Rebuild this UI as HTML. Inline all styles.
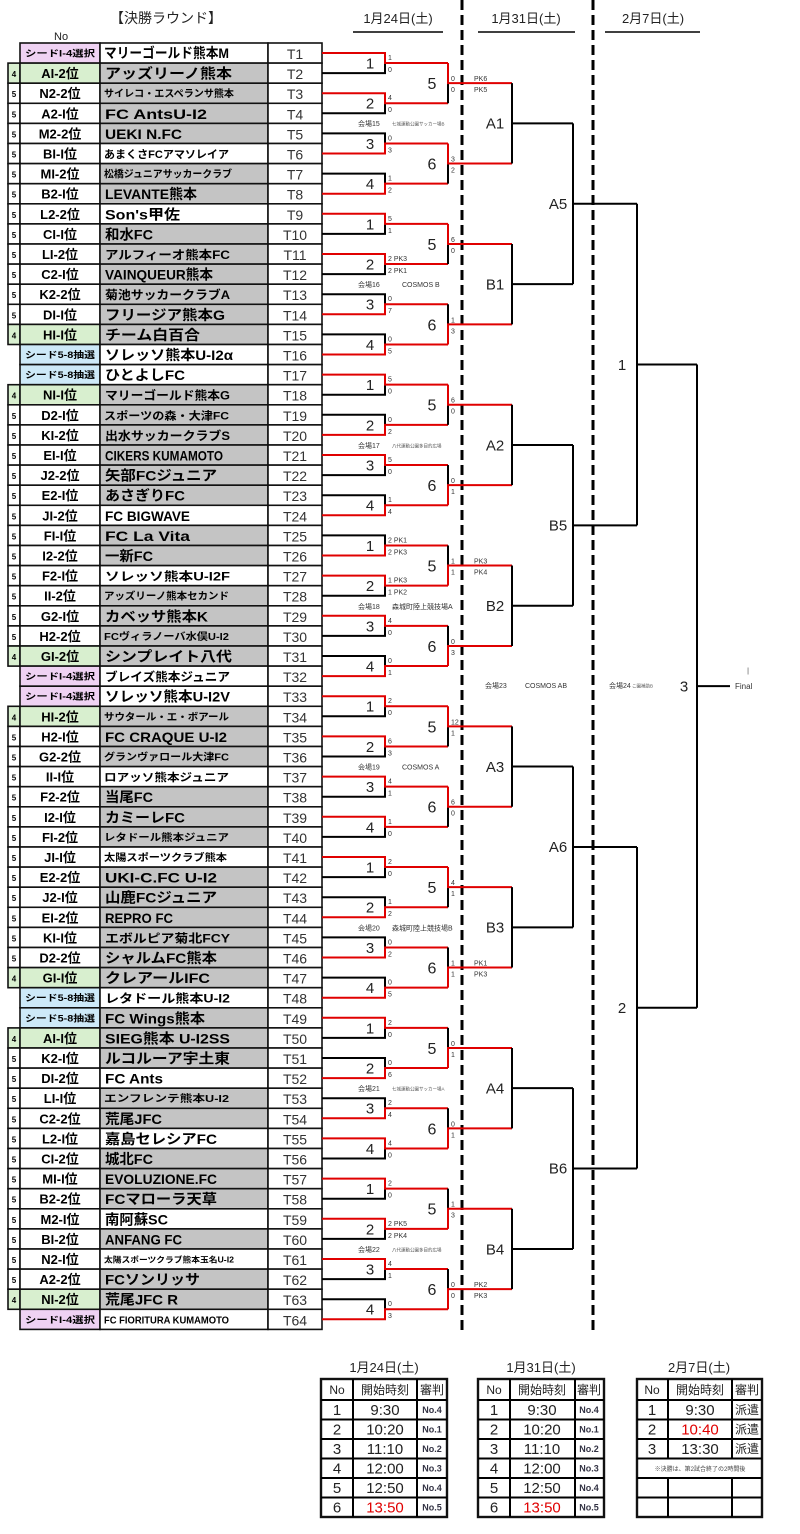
<!DOCTYPE html>
<html><head><meta charset="utf-8">
<style>
html,body{margin:0;padding:0;background:#fff;}
svg{display:block;font-family:"Liberation Sans","Noto Sans CJK JP",sans-serif;}
rect{stroke:#111;stroke-width:1.6;fill:#fff;}
.g{fill:#c4c4c4}.gr{fill:#d8efcf}.pk{fill:#efd2f3}.bl{fill:#cde9f8}
.bd{font-size:8px;font-weight:bold;text-anchor:middle;}
.lb{font-size:13px;font-weight:bold;text-anchor:middle;}
.sd{font-size:9px;font-weight:bold;}
.nm{font-size:14px;font-weight:bold;}
.ns{font-size:10px;font-weight:bold;}
.tt{font-size:14px;text-anchor:middle;fill:#333;}
.k{stroke:#000;fill:none;stroke-width:2}
.r{stroke:#e00000;fill:none;stroke-width:2}
.n1{font-size:15px;text-anchor:middle;fill:#222}
.n2{font-size:16px;text-anchor:middle;fill:#222}
.sc{font-size:7px;fill:#333}
.vn{font-size:7px;fill:#333}
.vs{font-size:4.5px;fill:#555}
.hd{font-size:13px;fill:#222}
.th{font-size:12px;text-anchor:middle;fill:#222}
.tv{font-size:15px;text-anchor:middle;fill:#222}
.tr{font-size:9px;font-weight:bold;text-anchor:middle;fill:#334}
</style></head><body>
<svg width="800" height="1534" viewBox="0 0 800 1534" xmlns="http://www.w3.org/2000/svg">
<defs>
<g id="r1t"><path class="k" d="M322 20.1H385V10.05"/><path class="r" d="M322 0H385V10.05H448"/></g>
<g id="r1b"><path class="k" d="M322 0H385V10.05"/><path class="r" d="M322 20.1H385V10.05H448"/></g>
<g id="r2t"><path class="k" d="M448 40.2V20.1"/><path class="r" d="M448 0V20.1H512"/></g>
<g id="r2b"><path class="k" d="M448 0V20.1"/><path class="r" d="M448 40.2V20.1H512"/></g>
<g id="r3"><path class="k" d="M512 0V80.4M512 40.2H573"/></g>
<g id="r4"><path class="k" d="M573 0V160.8M573 80.4H637"/></g>
<g id="r5"><path class="k" d="M637 0V321.6M637 160.8H697"/></g>
</defs>

<!-- headers -->
<text x="110" y="23" style="font-size:14px;fill:#222">【決勝ラウンド】</text>
<text x="54" y="40" style="font-size:11px;fill:#222">No</text>
<text x="398" y="23" class="hd" text-anchor="middle">1月24日(土)</text>
<line x1="353" y1="32" x2="443" y2="32" stroke="#000" stroke-width="1.5"/>
<text x="526" y="23" class="hd" text-anchor="middle">1月31日(土)</text>
<line x1="478" y1="32" x2="575" y2="32" stroke="#000" stroke-width="1.5"/>
<text x="653" y="23" class="hd" text-anchor="middle">2月7日(土)</text>
<line x1="605" y1="32" x2="700" y2="32" stroke="#000" stroke-width="1.5"/>

<!-- dashed dividers -->
<line x1="462" y1="0" x2="462" y2="1335" stroke="#000" stroke-width="3" stroke-dasharray="10 5"/>
<line x1="593" y1="0" x2="593" y2="1335" stroke="#000" stroke-width="3" stroke-dasharray="10 5"/>

<!-- team rows -->
<g transform="translate(0,43)"><rect class="pk" x="20" width="80" height="20.1"/><text class="sd" x="25" y="13.5" textLength="70" lengthAdjust="spacingAndGlyphs">シードI-4選択</text><rect x="100" width="168" height="20.1"/><text class="nm" x="104" y="15" textLength="125" lengthAdjust="spacingAndGlyphs">マリーゴールド熊本M</text><rect x="268" width="54" height="20.1"/><text class="tt" x="295" y="16">T1</text></g>
<g transform="translate(0,63.1)"><rect class="gr" x="8" width="12" height="20.1"/><text class="bd" x="14" y="14">4</text><rect class="gr" x="20" width="80" height="20.1"/><text class="lb" x="60" y="15">AI-2位</text><rect class="g" x="100" width="168" height="20.1"/><text class="nm" x="105" y="15.5" textLength="127" lengthAdjust="spacingAndGlyphs">アッズリーノ熊本</text><rect x="268" width="54" height="20.1"/><text class="tt" x="295" y="16">T2</text></g>
<g transform="translate(0,83.2)"><rect x="8" width="12" height="20.1"/><text class="bd" x="14" y="14">5</text><rect x="20" width="80" height="20.1"/><text class="lb" x="60" y="15">N2-2位</text><rect class="g" x="100" width="168" height="20.1"/><text class="ns" x="104" y="14" textLength="130" lengthAdjust="spacingAndGlyphs">サイレコ・エスペランサ熊本</text><rect x="268" width="54" height="20.1"/><text class="tt" x="295" y="16">T3</text></g>
<g transform="translate(0,103.3)"><rect x="8" width="12" height="20.1"/><text class="bd" x="14" y="14">5</text><rect x="20" width="80" height="20.1"/><text class="lb" x="60" y="15">A2-I位</text><rect class="g" x="100" width="168" height="20.1"/><text class="nm" x="105" y="15.5" textLength="102" lengthAdjust="spacingAndGlyphs">FC AntsU-I2</text><rect x="268" width="54" height="20.1"/><text class="tt" x="295" y="16">T4</text></g>
<g transform="translate(0,123.4)"><rect x="8" width="12" height="20.1"/><text class="bd" x="14" y="14">5</text><rect x="20" width="80" height="20.1"/><text class="lb" x="60" y="15">M2-2位</text><rect class="g" x="100" width="168" height="20.1"/><text class="nm" x="105" y="15.5" textLength="77" lengthAdjust="spacingAndGlyphs">UEKI N.FC</text><rect x="268" width="54" height="20.1"/><text class="tt" x="295" y="16">T5</text></g>
<g transform="translate(0,143.5)"><rect x="8" width="12" height="20.1"/><text class="bd" x="14" y="14">5</text><rect x="20" width="80" height="20.1"/><text class="lb" x="60" y="15">BI-I位</text><rect x="100" width="168" height="20.1"/><text class="ns" x="104" y="14.5" style="font-size:11px" textLength="125" lengthAdjust="spacingAndGlyphs">あまくさFCアマソレイア</text><rect x="268" width="54" height="20.1"/><text class="tt" x="295" y="16">T6</text></g>
<g transform="translate(0,163.6)"><rect x="8" width="12" height="20.1"/><text class="bd" x="14" y="14">5</text><rect x="20" width="80" height="20.1"/><text class="lb" x="60" y="15">MI-2位</text><rect class="g" x="100" width="168" height="20.1"/><text class="ns" x="104" y="14" textLength="128" lengthAdjust="spacingAndGlyphs">松橋ジュニアサッカークラブ</text><rect x="268" width="54" height="20.1"/><text class="tt" x="295" y="16">T7</text></g>
<g transform="translate(0,183.7)"><rect x="8" width="12" height="20.1"/><text class="bd" x="14" y="14">5</text><rect x="20" width="80" height="20.1"/><text class="lb" x="60" y="15">B2-I位</text><rect class="g" x="100" width="168" height="20.1"/><text class="nm" x="105" y="15.5" textLength="92" lengthAdjust="spacingAndGlyphs">LEVANTE熊本</text><rect x="268" width="54" height="20.1"/><text class="tt" x="295" y="16">T8</text></g>
<g transform="translate(0,203.8)"><rect x="8" width="12" height="20.1"/><text class="bd" x="14" y="14">5</text><rect x="20" width="80" height="20.1"/><text class="lb" x="60" y="15">L2-2位</text><rect x="100" width="168" height="20.1"/><text class="nm" x="105" y="15.5" textLength="75" lengthAdjust="spacingAndGlyphs">Son's甲佐</text><rect x="268" width="54" height="20.1"/><text class="tt" x="295" y="16">T9</text></g>
<g transform="translate(0,223.9)"><rect x="8" width="12" height="20.1"/><text class="bd" x="14" y="14">5</text><rect x="20" width="80" height="20.1"/><text class="lb" x="60" y="15">CI-I位</text><rect class="g" x="100" width="168" height="20.1"/><text class="nm" x="105" y="15.5" textLength="48" lengthAdjust="spacingAndGlyphs">和水FC</text><rect x="268" width="54" height="20.1"/><text class="tt" x="295" y="16">T10</text></g>
<g transform="translate(0,244)"><rect x="8" width="12" height="20.1"/><text class="bd" x="14" y="14">5</text><rect x="20" width="80" height="20.1"/><text class="lb" x="60" y="15">LI-2位</text><rect class="g" x="100" width="168" height="20.1"/><text class="nm" x="105" y="15" style="font-size:12px" textLength="125" lengthAdjust="spacingAndGlyphs">アルフィーオ熊本FC</text><rect x="268" width="54" height="20.1"/><text class="tt" x="295" y="16">T11</text></g>
<g transform="translate(0,264.1)"><rect x="8" width="12" height="20.1"/><text class="bd" x="14" y="14">5</text><rect x="20" width="80" height="20.1"/><text class="lb" x="60" y="15">C2-I位</text><rect class="g" x="100" width="168" height="20.1"/><text class="nm" x="105" y="15.5" textLength="108" lengthAdjust="spacingAndGlyphs">VAINQUEUR熊本</text><rect x="268" width="54" height="20.1"/><text class="tt" x="295" y="16">T12</text></g>
<g transform="translate(0,284.2)"><rect x="8" width="12" height="20.1"/><text class="bd" x="14" y="14">5</text><rect x="20" width="80" height="20.1"/><text class="lb" x="60" y="15">K2-2位</text><rect class="g" x="100" width="168" height="20.1"/><text class="nm" x="105" y="15" style="font-size:12px" textLength="125" lengthAdjust="spacingAndGlyphs">菊池サッカークラブA</text><rect x="268" width="54" height="20.1"/><text class="tt" x="295" y="16">T13</text></g>
<g transform="translate(0,304.3)"><rect x="8" width="12" height="20.1"/><text class="bd" x="14" y="14">5</text><rect x="20" width="80" height="20.1"/><text class="lb" x="60" y="15">DI-I位</text><rect class="g" x="100" width="168" height="20.1"/><text class="nm" x="105" y="15.5" textLength="120" lengthAdjust="spacingAndGlyphs">フリージア熊本G</text><rect x="268" width="54" height="20.1"/><text class="tt" x="295" y="16">T14</text></g>
<g transform="translate(0,324.4)"><rect class="gr" x="8" width="12" height="20.1"/><text class="bd" x="14" y="14">4</text><rect class="gr" x="20" width="80" height="20.1"/><text class="lb" x="60" y="15">HI-I位</text><rect class="g" x="100" width="168" height="20.1"/><text class="nm" x="105" y="15.5" textLength="95" lengthAdjust="spacingAndGlyphs">チーム白百合</text><rect x="268" width="54" height="20.1"/><text class="tt" x="295" y="16">T15</text></g>
<g transform="translate(0,344.5)"><rect class="bl" x="20" width="80" height="20.1"/><text class="sd" x="25" y="13.5" textLength="70" lengthAdjust="spacingAndGlyphs">シード5-8抽選</text><rect x="100" width="168" height="20.1"/><text class="nm" x="105" y="15.5" textLength="128" lengthAdjust="spacingAndGlyphs">ソレッソ熊本U-I2α</text><rect x="268" width="54" height="20.1"/><text class="tt" x="295" y="16">T16</text></g>
<g transform="translate(0,364.6)"><rect class="bl" x="20" width="80" height="20.1"/><text class="sd" x="25" y="13.5" textLength="70" lengthAdjust="spacingAndGlyphs">シード5-8抽選</text><rect x="100" width="168" height="20.1"/><text class="nm" x="105" y="15.5" textLength="80" lengthAdjust="spacingAndGlyphs">ひとよしFC</text><rect x="268" width="54" height="20.1"/><text class="tt" x="295" y="16">T17</text></g>
<g transform="translate(0,384.7)"><rect class="gr" x="8" width="12" height="20.1"/><text class="bd" x="14" y="14">4</text><rect class="gr" x="20" width="80" height="20.1"/><text class="lb" x="60" y="15">NI-I位</text><rect class="g" x="100" width="168" height="20.1"/><text class="nm" x="105" y="15" style="font-size:12px" textLength="125" lengthAdjust="spacingAndGlyphs">マリーゴールド熊本G</text><rect x="268" width="54" height="20.1"/><text class="tt" x="295" y="16">T18</text></g>
<g transform="translate(0,404.8)"><rect x="8" width="12" height="20.1"/><text class="bd" x="14" y="14">5</text><rect x="20" width="80" height="20.1"/><text class="lb" x="60" y="15">D2-I位</text><rect class="g" x="100" width="168" height="20.1"/><text class="ns" x="104" y="14.5" style="font-size:11px" textLength="125" lengthAdjust="spacingAndGlyphs">スポーツの森・大津FC</text><rect x="268" width="54" height="20.1"/><text class="tt" x="295" y="16">T19</text></g>
<g transform="translate(0,424.9)"><rect x="8" width="12" height="20.1"/><text class="bd" x="14" y="14">5</text><rect x="20" width="80" height="20.1"/><text class="lb" x="60" y="15">KI-2位</text><rect class="g" x="100" width="168" height="20.1"/><text class="nm" x="105" y="15" style="font-size:12px" textLength="125" lengthAdjust="spacingAndGlyphs">出水サッカークラブS</text><rect x="268" width="54" height="20.1"/><text class="tt" x="295" y="16">T20</text></g>
<g transform="translate(0,445)"><rect x="8" width="12" height="20.1"/><text class="bd" x="14" y="14">5</text><rect x="20" width="80" height="20.1"/><text class="lb" x="60" y="15">EI-I位</text><rect class="g" x="100" width="168" height="20.1"/><text class="nm" x="105" y="15.5" textLength="118" lengthAdjust="spacingAndGlyphs">CIKERS KUMAMOTO</text><rect x="268" width="54" height="20.1"/><text class="tt" x="295" y="16">T21</text></g>
<g transform="translate(0,465.1)"><rect x="8" width="12" height="20.1"/><text class="bd" x="14" y="14">5</text><rect x="20" width="80" height="20.1"/><text class="lb" x="60" y="15">J2-2位</text><rect class="g" x="100" width="168" height="20.1"/><text class="nm" x="105" y="15.5" textLength="112" lengthAdjust="spacingAndGlyphs">矢部FCジュニア</text><rect x="268" width="54" height="20.1"/><text class="tt" x="295" y="16">T22</text></g>
<g transform="translate(0,485.2)"><rect x="8" width="12" height="20.1"/><text class="bd" x="14" y="14">5</text><rect x="20" width="80" height="20.1"/><text class="lb" x="60" y="15">E2-I位</text><rect class="g" x="100" width="168" height="20.1"/><text class="nm" x="105" y="15.5" textLength="80" lengthAdjust="spacingAndGlyphs">あさぎりFC</text><rect x="268" width="54" height="20.1"/><text class="tt" x="295" y="16">T23</text></g>
<g transform="translate(0,505.3)"><rect x="8" width="12" height="20.1"/><text class="bd" x="14" y="14">5</text><rect x="20" width="80" height="20.1"/><text class="lb" x="60" y="15">JI-2位</text><rect x="100" width="168" height="20.1"/><text class="nm" x="105" y="15.5" textLength="85" lengthAdjust="spacingAndGlyphs">FC BIGWAVE</text><rect x="268" width="54" height="20.1"/><text class="tt" x="295" y="16">T24</text></g>
<g transform="translate(0,525.4)"><rect x="8" width="12" height="20.1"/><text class="bd" x="14" y="14">5</text><rect x="20" width="80" height="20.1"/><text class="lb" x="60" y="15">FI-I位</text><rect class="g" x="100" width="168" height="20.1"/><text class="nm" x="105" y="15.5" textLength="85" lengthAdjust="spacingAndGlyphs">FC La Vita</text><rect x="268" width="54" height="20.1"/><text class="tt" x="295" y="16">T25</text></g>
<g transform="translate(0,545.5)"><rect x="8" width="12" height="20.1"/><text class="bd" x="14" y="14">5</text><rect x="20" width="80" height="20.1"/><text class="lb" x="60" y="15">I2-2位</text><rect class="g" x="100" width="168" height="20.1"/><text class="nm" x="105" y="15.5" textLength="48" lengthAdjust="spacingAndGlyphs">一新FC</text><rect x="268" width="54" height="20.1"/><text class="tt" x="295" y="16">T26</text></g>
<g transform="translate(0,565.6)"><rect x="8" width="12" height="20.1"/><text class="bd" x="14" y="14">5</text><rect x="20" width="80" height="20.1"/><text class="lb" x="60" y="15">F2-I位</text><rect x="100" width="168" height="20.1"/><text class="nm" x="105" y="15" style="font-size:12px" textLength="125" lengthAdjust="spacingAndGlyphs">ソレッソ熊本U-I2F</text><rect x="268" width="54" height="20.1"/><text class="tt" x="295" y="16">T27</text></g>
<g transform="translate(0,585.7)"><rect x="8" width="12" height="20.1"/><text class="bd" x="14" y="14">5</text><rect x="20" width="80" height="20.1"/><text class="lb" x="60" y="15">II-2位</text><rect class="g" x="100" width="168" height="20.1"/><text class="ns" x="104" y="14" textLength="125" lengthAdjust="spacingAndGlyphs">アッズリーノ熊本セカンド</text><rect x="268" width="54" height="20.1"/><text class="tt" x="295" y="16">T28</text></g>
<g transform="translate(0,605.8)"><rect x="8" width="12" height="20.1"/><text class="bd" x="14" y="14">5</text><rect x="20" width="80" height="20.1"/><text class="lb" x="60" y="15">G2-I位</text><rect class="g" x="100" width="168" height="20.1"/><text class="nm" x="105" y="15.5" textLength="103" lengthAdjust="spacingAndGlyphs">カベッサ熊本K</text><rect x="268" width="54" height="20.1"/><text class="tt" x="295" y="16">T29</text></g>
<g transform="translate(0,625.9)"><rect x="8" width="12" height="20.1"/><text class="bd" x="14" y="14">5</text><rect x="20" width="80" height="20.1"/><text class="lb" x="60" y="15">H2-2位</text><rect class="g" x="100" width="168" height="20.1"/><text class="ns" x="104" y="14" textLength="125" lengthAdjust="spacingAndGlyphs">FCヴィラノーバ水俣U-I2</text><rect x="268" width="54" height="20.1"/><text class="tt" x="295" y="16">T30</text></g>
<g transform="translate(0,646)"><rect class="gr" x="8" width="12" height="20.1"/><text class="bd" x="14" y="14">4</text><rect class="gr" x="20" width="80" height="20.1"/><text class="lb" x="60" y="15">GI-2位</text><rect class="g" x="100" width="168" height="20.1"/><text class="nm" x="105" y="15.5" textLength="127" lengthAdjust="spacingAndGlyphs">シンプレイト八代</text><rect x="268" width="54" height="20.1"/><text class="tt" x="295" y="16">T31</text></g>
<g transform="translate(0,666.1)"><rect class="pk" x="20" width="80" height="20.1"/><text class="sd" x="25" y="13.5" textLength="70" lengthAdjust="spacingAndGlyphs">シードI-4選択</text><rect x="100" width="168" height="20.1"/><text class="nm" x="105" y="15" style="font-size:12px" textLength="125" lengthAdjust="spacingAndGlyphs">ブレイズ熊本ジュニア</text><rect x="268" width="54" height="20.1"/><text class="tt" x="295" y="16">T32</text></g>
<g transform="translate(0,686.2)"><rect class="pk" x="20" width="80" height="20.1"/><text class="sd" x="25" y="13.5" textLength="70" lengthAdjust="spacingAndGlyphs">シードI-4選択</text><rect x="100" width="168" height="20.1"/><text class="nm" x="105" y="15.5" textLength="125" lengthAdjust="spacingAndGlyphs">ソレッソ熊本U-I2V</text><rect x="268" width="54" height="20.1"/><text class="tt" x="295" y="16">T33</text></g>
<g transform="translate(0,706.3)"><rect class="gr" x="8" width="12" height="20.1"/><text class="bd" x="14" y="14">4</text><rect class="gr" x="20" width="80" height="20.1"/><text class="lb" x="60" y="15">HI-2位</text><rect class="g" x="100" width="168" height="20.1"/><text class="ns" x="104" y="14" textLength="125" lengthAdjust="spacingAndGlyphs">サウタール・エ・ボアール</text><rect x="268" width="54" height="20.1"/><text class="tt" x="295" y="16">T34</text></g>
<g transform="translate(0,726.4)"><rect x="8" width="12" height="20.1"/><text class="bd" x="14" y="14">5</text><rect x="20" width="80" height="20.1"/><text class="lb" x="60" y="15">H2-I位</text><rect class="g" x="100" width="168" height="20.1"/><text class="nm" x="105" y="15.5" textLength="122" lengthAdjust="spacingAndGlyphs">FC CRAQUE U-I2</text><rect x="268" width="54" height="20.1"/><text class="tt" x="295" y="16">T35</text></g>
<g transform="translate(0,746.5)"><rect x="8" width="12" height="20.1"/><text class="bd" x="14" y="14">5</text><rect x="20" width="80" height="20.1"/><text class="lb" x="60" y="15">G2-2位</text><rect class="g" x="100" width="168" height="20.1"/><text class="ns" x="104" y="14" textLength="125" lengthAdjust="spacingAndGlyphs">グランヴァロール大津FC</text><rect x="268" width="54" height="20.1"/><text class="tt" x="295" y="16">T36</text></g>
<g transform="translate(0,766.6)"><rect x="8" width="12" height="20.1"/><text class="bd" x="14" y="14">5</text><rect x="20" width="80" height="20.1"/><text class="lb" x="60" y="15">II-I位</text><rect x="100" width="168" height="20.1"/><text class="ns" x="104" y="14.5" style="font-size:11px" textLength="125" lengthAdjust="spacingAndGlyphs">ロアッソ熊本ジュニア</text><rect x="268" width="54" height="20.1"/><text class="tt" x="295" y="16">T37</text></g>
<g transform="translate(0,786.7)"><rect x="8" width="12" height="20.1"/><text class="bd" x="14" y="14">5</text><rect x="20" width="80" height="20.1"/><text class="lb" x="60" y="15">F2-2位</text><rect class="g" x="100" width="168" height="20.1"/><text class="nm" x="105" y="15.5" textLength="48" lengthAdjust="spacingAndGlyphs">当尾FC</text><rect x="268" width="54" height="20.1"/><text class="tt" x="295" y="16">T38</text></g>
<g transform="translate(0,806.8)"><rect x="8" width="12" height="20.1"/><text class="bd" x="14" y="14">5</text><rect x="20" width="80" height="20.1"/><text class="lb" x="60" y="15">I2-I位</text><rect class="g" x="100" width="168" height="20.1"/><text class="nm" x="105" y="15.5" textLength="80" lengthAdjust="spacingAndGlyphs">カミーレFC</text><rect x="268" width="54" height="20.1"/><text class="tt" x="295" y="16">T39</text></g>
<g transform="translate(0,826.9)"><rect x="8" width="12" height="20.1"/><text class="bd" x="14" y="14">5</text><rect x="20" width="80" height="20.1"/><text class="lb" x="60" y="15">FI-2位</text><rect class="g" x="100" width="168" height="20.1"/><text class="ns" x="104" y="14" textLength="125" lengthAdjust="spacingAndGlyphs">レタドール熊本ジュニア</text><rect x="268" width="54" height="20.1"/><text class="tt" x="295" y="16">T40</text></g>
<g transform="translate(0,847)"><rect x="8" width="12" height="20.1"/><text class="bd" x="14" y="14">5</text><rect x="20" width="80" height="20.1"/><text class="lb" x="60" y="15">JI-I位</text><rect x="100" width="168" height="20.1"/><text class="ns" x="104" y="14" textLength="123" lengthAdjust="spacingAndGlyphs">太陽スポーツクラブ熊本</text><rect x="268" width="54" height="20.1"/><text class="tt" x="295" y="16">T41</text></g>
<g transform="translate(0,867.1)"><rect x="8" width="12" height="20.1"/><text class="bd" x="14" y="14">5</text><rect x="20" width="80" height="20.1"/><text class="lb" x="60" y="15">E2-2位</text><rect class="g" x="100" width="168" height="20.1"/><text class="nm" x="105" y="15.5" textLength="112" lengthAdjust="spacingAndGlyphs">UKI-C.FC U-I2</text><rect x="268" width="54" height="20.1"/><text class="tt" x="295" y="16">T42</text></g>
<g transform="translate(0,887.2)"><rect x="8" width="12" height="20.1"/><text class="bd" x="14" y="14">5</text><rect x="20" width="80" height="20.1"/><text class="lb" x="60" y="15">J2-I位</text><rect class="g" x="100" width="168" height="20.1"/><text class="nm" x="105" y="15.5" textLength="112" lengthAdjust="spacingAndGlyphs">山鹿FCジュニア</text><rect x="268" width="54" height="20.1"/><text class="tt" x="295" y="16">T43</text></g>
<g transform="translate(0,907.3)"><rect x="8" width="12" height="20.1"/><text class="bd" x="14" y="14">5</text><rect x="20" width="80" height="20.1"/><text class="lb" x="60" y="15">EI-2位</text><rect class="g" x="100" width="168" height="20.1"/><text class="nm" x="105" y="15.5" textLength="68" lengthAdjust="spacingAndGlyphs">REPRO FC</text><rect x="268" width="54" height="20.1"/><text class="tt" x="295" y="16">T44</text></g>
<g transform="translate(0,927.4)"><rect x="8" width="12" height="20.1"/><text class="bd" x="14" y="14">5</text><rect x="20" width="80" height="20.1"/><text class="lb" x="60" y="15">KI-I位</text><rect class="g" x="100" width="168" height="20.1"/><text class="nm" x="105" y="15" style="font-size:12px" textLength="125" lengthAdjust="spacingAndGlyphs">エボルピア菊北FCY</text><rect x="268" width="54" height="20.1"/><text class="tt" x="295" y="16">T45</text></g>
<g transform="translate(0,947.5)"><rect x="8" width="12" height="20.1"/><text class="bd" x="14" y="14">5</text><rect x="20" width="80" height="20.1"/><text class="lb" x="60" y="15">D2-2位</text><rect class="g" x="100" width="168" height="20.1"/><text class="nm" x="105" y="15.5" textLength="112" lengthAdjust="spacingAndGlyphs">シャルムFC熊本</text><rect x="268" width="54" height="20.1"/><text class="tt" x="295" y="16">T46</text></g>
<g transform="translate(0,967.6)"><rect class="gr" x="8" width="12" height="20.1"/><text class="bd" x="14" y="14">4</text><rect class="gr" x="20" width="80" height="20.1"/><text class="lb" x="60" y="15">GI-I位</text><rect class="g" x="100" width="168" height="20.1"/><text class="nm" x="105" y="15.5" textLength="105" lengthAdjust="spacingAndGlyphs">クレアールIFC</text><rect x="268" width="54" height="20.1"/><text class="tt" x="295" y="16">T47</text></g>
<g transform="translate(0,987.7)"><rect class="bl" x="20" width="80" height="20.1"/><text class="sd" x="25" y="13.5" textLength="70" lengthAdjust="spacingAndGlyphs">シード5-8抽選</text><rect x="100" width="168" height="20.1"/><text class="nm" x="105" y="15" style="font-size:12px" textLength="125" lengthAdjust="spacingAndGlyphs">レタドール熊本U-I2</text><rect x="268" width="54" height="20.1"/><text class="tt" x="295" y="16">T48</text></g>
<g transform="translate(0,1007.8)"><rect class="bl" x="20" width="80" height="20.1"/><text class="sd" x="25" y="13.5" textLength="70" lengthAdjust="spacingAndGlyphs">シード5-8抽選</text><rect class="g" x="100" width="168" height="20.1"/><text class="nm" x="105" y="15.5" textLength="100" lengthAdjust="spacingAndGlyphs">FC Wings熊本</text><rect x="268" width="54" height="20.1"/><text class="tt" x="295" y="16">T49</text></g>
<g transform="translate(0,1027.9)"><rect class="gr" x="8" width="12" height="20.1"/><text class="bd" x="14" y="14">4</text><rect class="gr" x="20" width="80" height="20.1"/><text class="lb" x="60" y="15">AI-I位</text><rect class="g" x="100" width="168" height="20.1"/><text class="nm" x="105" y="15.5" textLength="125" lengthAdjust="spacingAndGlyphs">SIEG熊本 U-I2SS</text><rect x="268" width="54" height="20.1"/><text class="tt" x="295" y="16">T50</text></g>
<g transform="translate(0,1048)"><rect x="8" width="12" height="20.1"/><text class="bd" x="14" y="14">5</text><rect x="20" width="80" height="20.1"/><text class="lb" x="60" y="15">K2-I位</text><rect class="g" x="100" width="168" height="20.1"/><text class="nm" x="105" y="15.5" textLength="125" lengthAdjust="spacingAndGlyphs">ルコルーア宇土東</text><rect x="268" width="54" height="20.1"/><text class="tt" x="295" y="16">T51</text></g>
<g transform="translate(0,1068.1)"><rect x="8" width="12" height="20.1"/><text class="bd" x="14" y="14">5</text><rect x="20" width="80" height="20.1"/><text class="lb" x="60" y="15">DI-2位</text><rect x="100" width="168" height="20.1"/><text class="nm" x="105" y="15.5" textLength="58" lengthAdjust="spacingAndGlyphs">FC Ants</text><rect x="268" width="54" height="20.1"/><text class="tt" x="295" y="16">T52</text></g>
<g transform="translate(0,1088.2)"><rect x="8" width="12" height="20.1"/><text class="bd" x="14" y="14">5</text><rect x="20" width="80" height="20.1"/><text class="lb" x="60" y="15">LI-I位</text><rect class="g" x="100" width="168" height="20.1"/><text class="ns" x="104" y="14" textLength="125" lengthAdjust="spacingAndGlyphs">エンフレンテ熊本U-I2</text><rect x="268" width="54" height="20.1"/><text class="tt" x="295" y="16">T53</text></g>
<g transform="translate(0,1108.3)"><rect x="8" width="12" height="20.1"/><text class="bd" x="14" y="14">5</text><rect x="20" width="80" height="20.1"/><text class="lb" x="60" y="15">C2-2位</text><rect class="g" x="100" width="168" height="20.1"/><text class="nm" x="105" y="15.5" textLength="57" lengthAdjust="spacingAndGlyphs">荒尾JFC</text><rect x="268" width="54" height="20.1"/><text class="tt" x="295" y="16">T54</text></g>
<g transform="translate(0,1128.4)"><rect x="8" width="12" height="20.1"/><text class="bd" x="14" y="14">5</text><rect x="20" width="80" height="20.1"/><text class="lb" x="60" y="15">L2-I位</text><rect x="100" width="168" height="20.1"/><text class="nm" x="105" y="15.5" textLength="112" lengthAdjust="spacingAndGlyphs">嘉島セレシアFC</text><rect x="268" width="54" height="20.1"/><text class="tt" x="295" y="16">T55</text></g>
<g transform="translate(0,1148.5)"><rect x="8" width="12" height="20.1"/><text class="bd" x="14" y="14">5</text><rect x="20" width="80" height="20.1"/><text class="lb" x="60" y="15">CI-2位</text><rect class="g" x="100" width="168" height="20.1"/><text class="nm" x="105" y="15.5" textLength="48" lengthAdjust="spacingAndGlyphs">城北FC</text><rect x="268" width="54" height="20.1"/><text class="tt" x="295" y="16">T56</text></g>
<g transform="translate(0,1168.6)"><rect x="8" width="12" height="20.1"/><text class="bd" x="14" y="14">5</text><rect x="20" width="80" height="20.1"/><text class="lb" x="60" y="15">MI-I位</text><rect class="g" x="100" width="168" height="20.1"/><text class="nm" x="105" y="15.5" textLength="112" lengthAdjust="spacingAndGlyphs">EVOLUZIONE.FC</text><rect x="268" width="54" height="20.1"/><text class="tt" x="295" y="16">T57</text></g>
<g transform="translate(0,1188.7)"><rect x="8" width="12" height="20.1"/><text class="bd" x="14" y="14">5</text><rect x="20" width="80" height="20.1"/><text class="lb" x="60" y="15">B2-2位</text><rect class="g" x="100" width="168" height="20.1"/><text class="nm" x="105" y="15.5" textLength="112" lengthAdjust="spacingAndGlyphs">FCマローラ天草</text><rect x="268" width="54" height="20.1"/><text class="tt" x="295" y="16">T58</text></g>
<g transform="translate(0,1208.8)"><rect x="8" width="12" height="20.1"/><text class="bd" x="14" y="14">5</text><rect x="20" width="80" height="20.1"/><text class="lb" x="60" y="15">M2-I位</text><rect x="100" width="168" height="20.1"/><text class="nm" x="105" y="15.5" textLength="63" lengthAdjust="spacingAndGlyphs">南阿蘇SC</text><rect x="268" width="54" height="20.1"/><text class="tt" x="295" y="16">T59</text></g>
<g transform="translate(0,1228.9)"><rect x="8" width="12" height="20.1"/><text class="bd" x="14" y="14">5</text><rect x="20" width="80" height="20.1"/><text class="lb" x="60" y="15">BI-2位</text><rect class="g" x="100" width="168" height="20.1"/><text class="nm" x="105" y="15.5" textLength="77" lengthAdjust="spacingAndGlyphs">ANFANG FC</text><rect x="268" width="54" height="20.1"/><text class="tt" x="295" y="16">T60</text></g>
<g transform="translate(0,1249)"><rect x="8" width="12" height="20.1"/><text class="bd" x="14" y="14">5</text><rect x="20" width="80" height="20.1"/><text class="lb" x="60" y="15">N2-I位</text><rect x="100" width="168" height="20.1"/><text class="ns" x="104" y="13.5" style="font-size:8px" textLength="130" lengthAdjust="spacingAndGlyphs">太陽スポーツクラブ熊本玉名U-I2</text><rect x="268" width="54" height="20.1"/><text class="tt" x="295" y="16">T61</text></g>
<g transform="translate(0,1269.1)"><rect x="8" width="12" height="20.1"/><text class="bd" x="14" y="14">5</text><rect x="20" width="80" height="20.1"/><text class="lb" x="60" y="15">A2-2位</text><rect class="g" x="100" width="168" height="20.1"/><text class="nm" x="105" y="15.5" textLength="95" lengthAdjust="spacingAndGlyphs">FCソンリッサ</text><rect x="268" width="54" height="20.1"/><text class="tt" x="295" y="16">T62</text></g>
<g transform="translate(0,1289.2)"><rect class="gr" x="8" width="12" height="20.1"/><text class="bd" x="14" y="14">4</text><rect class="gr" x="20" width="80" height="20.1"/><text class="lb" x="60" y="15">NI-2位</text><rect class="g" x="100" width="168" height="20.1"/><text class="nm" x="105" y="15.5" textLength="73" lengthAdjust="spacingAndGlyphs">荒尾JFC R</text><rect x="268" width="54" height="20.1"/><text class="tt" x="295" y="16">T63</text></g>
<g transform="translate(0,1309.3)"><rect class="pk" x="20" width="80" height="20.1"/><text class="sd" x="25" y="13.5" textLength="70" lengthAdjust="spacingAndGlyphs">シードI-4選択</text><rect x="100" width="168" height="20.1"/><text class="ns" x="104" y="14" textLength="125" lengthAdjust="spacingAndGlyphs">FC FIORITURA KUMAMOTO</text><rect x="268" width="54" height="20.1"/><text class="tt" x="295" y="16">T64</text></g>

<!-- round 1 -->
<g transform="translate(0,53)"><use href="#r1t"/><text class="n1" x="370" y="15.5">1</text><text class="sc" x="388" y="7">1</text><text class="sc" x="388" y="19">0</text></g>
<g transform="translate(0,93.2)"><use href="#r1t"/><text class="n1" x="370" y="15.5">2</text><text class="sc" x="388" y="7">4</text><text class="sc" x="388" y="19">0</text></g>
<g transform="translate(0,133.4)"><use href="#r1b"/><text class="n1" x="370" y="15.5">3</text><text class="sc" x="388" y="7">0</text><text class="sc" x="388" y="19">3</text></g>
<g transform="translate(0,173.6)"><use href="#r1b"/><text class="n1" x="370" y="15.5">4</text><text class="sc" x="388" y="7">1</text><text class="sc" x="388" y="19">2</text></g>
<g transform="translate(0,213.8)"><use href="#r1t"/><text class="n1" x="370" y="15.5">1</text><text class="sc" x="388" y="7">5</text><text class="sc" x="388" y="19">1</text></g>
<g transform="translate(0,254)"><use href="#r1t"/><text class="n1" x="370" y="15.5">2</text><text class="sc" x="388" y="7">2 PK3</text><text class="sc" x="388" y="19">2 PK1</text></g>
<g transform="translate(0,294.2)"><use href="#r1b"/><text class="n1" x="370" y="15.5">3</text><text class="sc" x="388" y="7">0</text><text class="sc" x="388" y="19">7</text></g>
<g transform="translate(0,334.4)"><use href="#r1b"/><text class="n1" x="370" y="15.5">4</text><text class="sc" x="388" y="7">0</text><text class="sc" x="388" y="19">5</text></g>
<g transform="translate(0,374.6)"><use href="#r1t"/><text class="n1" x="370" y="15.5">1</text><text class="sc" x="388" y="7">5</text><text class="sc" x="388" y="19">0</text></g>
<g transform="translate(0,414.8)"><use href="#r1b"/><text class="n1" x="370" y="15.5">2</text><text class="sc" x="388" y="7">0</text><text class="sc" x="388" y="19">2</text></g>
<g transform="translate(0,455)"><use href="#r1t"/><text class="n1" x="370" y="15.5">3</text><text class="sc" x="388" y="7">5</text><text class="sc" x="388" y="19">0</text></g>
<g transform="translate(0,495.2)"><use href="#r1b"/><text class="n1" x="370" y="15.5">4</text><text class="sc" x="388" y="7">1</text><text class="sc" x="388" y="19">4</text></g>
<g transform="translate(0,535.4)"><use href="#r1b"/><text class="n1" x="370" y="15.5">1</text><text class="sc" x="388" y="7">2 PK1</text><text class="sc" x="388" y="19">2 PK3</text></g>
<g transform="translate(0,575.6)"><use href="#r1t"/><text class="n1" x="370" y="15.5">2</text><text class="sc" x="388" y="7">1 PK3</text><text class="sc" x="388" y="19">1 PK2</text></g>
<g transform="translate(0,615.8)"><use href="#r1t"/><text class="n1" x="370" y="15.5">3</text><text class="sc" x="388" y="7">4</text><text class="sc" x="388" y="19">0</text></g>
<g transform="translate(0,656)"><use href="#r1b"/><text class="n1" x="370" y="15.5">4</text><text class="sc" x="388" y="7">0</text><text class="sc" x="388" y="19">1</text></g>
<g transform="translate(0,696.2)"><use href="#r1t"/><text class="n1" x="370" y="15.5">1</text><text class="sc" x="388" y="7">2</text><text class="sc" x="388" y="19">0</text></g>
<g transform="translate(0,736.4)"><use href="#r1t"/><text class="n1" x="370" y="15.5">2</text><text class="sc" x="388" y="7">6</text><text class="sc" x="388" y="19">3</text></g>
<g transform="translate(0,776.6)"><use href="#r1t"/><text class="n1" x="370" y="15.5">3</text><text class="sc" x="388" y="7">4</text><text class="sc" x="388" y="19">1</text></g>
<g transform="translate(0,816.8)"><use href="#r1t"/><text class="n1" x="370" y="15.5">4</text><text class="sc" x="388" y="7">1</text><text class="sc" x="388" y="19">0</text></g>
<g transform="translate(0,857)"><use href="#r1t"/><text class="n1" x="370" y="15.5">1</text><text class="sc" x="388" y="7">2</text><text class="sc" x="388" y="19">0</text></g>
<g transform="translate(0,897.2)"><use href="#r1b"/><text class="n1" x="370" y="15.5">2</text><text class="sc" x="388" y="7">1</text><text class="sc" x="388" y="19">2</text></g>
<g transform="translate(0,937.4)"><use href="#r1b"/><text class="n1" x="370" y="15.5">3</text><text class="sc" x="388" y="7">0</text><text class="sc" x="388" y="19">2</text></g>
<g transform="translate(0,977.6)"><use href="#r1b"/><text class="n1" x="370" y="15.5">4</text><text class="sc" x="388" y="7">0</text><text class="sc" x="388" y="19">5</text></g>
<g transform="translate(0,1017.8)"><use href="#r1t"/><text class="n1" x="370" y="15.5">1</text><text class="sc" x="388" y="7">2</text><text class="sc" x="388" y="19">0</text></g>
<g transform="translate(0,1058)"><use href="#r1b"/><text class="n1" x="370" y="15.5">2</text><text class="sc" x="388" y="7">0</text><text class="sc" x="388" y="19">6</text></g>
<g transform="translate(0,1098.2)"><use href="#r1b"/><text class="n1" x="370" y="15.5">3</text><text class="sc" x="388" y="7">2</text><text class="sc" x="388" y="19">4</text></g>
<g transform="translate(0,1138.4)"><use href="#r1t"/><text class="n1" x="370" y="15.5">4</text><text class="sc" x="388" y="7">4</text><text class="sc" x="388" y="19">0</text></g>
<g transform="translate(0,1178.6)"><use href="#r1t"/><text class="n1" x="370" y="15.5">1</text><text class="sc" x="388" y="7">2</text><text class="sc" x="388" y="19">0</text></g>
<g transform="translate(0,1218.8)"><use href="#r1t"/><text class="n1" x="370" y="15.5">2</text><text class="sc" x="388" y="7">2 PK5</text><text class="sc" x="388" y="19">2 PK4</text></g>
<g transform="translate(0,1259)"><use href="#r1t"/><text class="n1" x="370" y="15.5">3</text><text class="sc" x="388" y="7">4</text><text class="sc" x="388" y="19">1</text></g>
<g transform="translate(0,1299.2)"><use href="#r1b"/><text class="n1" x="370" y="15.5">4</text><text class="sc" x="388" y="7">0</text><text class="sc" x="388" y="19">3</text></g>

<!-- round 2 -->
<g transform="translate(0,63.05)"><use href="#r2t"/><text class="n2" x="432" y="26">5</text><text class="sc" x="451" y="18">0</text><text class="sc" x="451" y="29">0</text><text class="sc" x="474" y="18">PK6</text><text class="sc" x="474" y="29">PK5</text></g>
<g transform="translate(0,143.45)"><use href="#r2t"/><text class="n2" x="432" y="26">6</text><text class="sc" x="451" y="18">3</text><text class="sc" x="451" y="29">2</text></g>
<g transform="translate(0,223.85)"><use href="#r2t"/><text class="n2" x="432" y="26">5</text><text class="sc" x="451" y="18">6</text><text class="sc" x="451" y="29">0</text></g>
<g transform="translate(0,304.25)"><use href="#r2b"/><text class="n2" x="432" y="26">6</text><text class="sc" x="451" y="18">1</text><text class="sc" x="451" y="29">3</text></g>
<g transform="translate(0,384.65)"><use href="#r2t"/><text class="n2" x="432" y="26">5</text><text class="sc" x="451" y="18">6</text><text class="sc" x="451" y="29">0</text></g>
<g transform="translate(0,465.05)"><use href="#r2b"/><text class="n2" x="432" y="26">6</text><text class="sc" x="451" y="18">0</text><text class="sc" x="451" y="29">1</text></g>
<g transform="translate(0,545.45)"><use href="#r2b"/><text class="n2" x="432" y="26">5</text><text class="sc" x="451" y="18">1</text><text class="sc" x="451" y="29">1</text><text class="sc" x="474" y="18">PK3</text><text class="sc" x="474" y="29">PK4</text></g>
<g transform="translate(0,625.85)"><use href="#r2b"/><text class="n2" x="432" y="26">6</text><text class="sc" x="451" y="18">0</text><text class="sc" x="451" y="29">3</text></g>
<g transform="translate(0,706.25)"><use href="#r2t"/><text class="n2" x="432" y="26">5</text><text class="sc" x="451" y="18">12</text><text class="sc" x="451" y="29">1</text></g>
<g transform="translate(0,786.65)"><use href="#r2t"/><text class="n2" x="432" y="26">6</text><text class="sc" x="451" y="18">6</text><text class="sc" x="451" y="29">0</text></g>
<g transform="translate(0,867.05)"><use href="#r2t"/><text class="n2" x="432" y="26">5</text><text class="sc" x="451" y="18">4</text><text class="sc" x="451" y="29">1</text></g>
<g transform="translate(0,947.45)"><use href="#r2b"/><text class="n2" x="432" y="26">6</text><text class="sc" x="451" y="18">1</text><text class="sc" x="451" y="29">1</text><text class="sc" x="474" y="18">PK1</text><text class="sc" x="474" y="29">PK3</text></g>
<g transform="translate(0,1027.85)"><use href="#r2b"/><text class="n2" x="432" y="26">5</text><text class="sc" x="451" y="18">0</text><text class="sc" x="451" y="29">1</text></g>
<g transform="translate(0,1108.25)"><use href="#r2b"/><text class="n2" x="432" y="26">6</text><text class="sc" x="451" y="18">0</text><text class="sc" x="451" y="29">1</text></g>
<g transform="translate(0,1188.65)"><use href="#r2b"/><text class="n2" x="432" y="26">5</text><text class="sc" x="451" y="18">1</text><text class="sc" x="451" y="29">3</text></g>
<g transform="translate(0,1269.05)"><use href="#r2b"/><text class="n2" x="432" y="26">6</text><text class="sc" x="451" y="18">0</text><text class="sc" x="451" y="29">0</text><text class="sc" x="474" y="18">PK2</text><text class="sc" x="474" y="29">PK3</text></g>

<!-- round 3 -->
<g transform="translate(0,83.15)"><use href="#r3"/><text class="n1" x="495" y="45.5">A1</text></g>
<g transform="translate(0,243.95)"><use href="#r3"/><text class="n1" x="495" y="45.5">B1</text></g>
<g transform="translate(0,404.75)"><use href="#r3"/><text class="n1" x="495" y="45.5">A2</text></g>
<g transform="translate(0,565.55)"><use href="#r3"/><text class="n1" x="495" y="45.5">B2</text></g>
<g transform="translate(0,726.35)"><use href="#r3"/><text class="n1" x="495" y="45.5">A3</text></g>
<g transform="translate(0,887.15)"><use href="#r3"/><text class="n1" x="495" y="45.5">B3</text></g>
<g transform="translate(0,1047.95)"><use href="#r3"/><text class="n1" x="495" y="45.5">A4</text></g>
<g transform="translate(0,1208.75)"><use href="#r3"/><text class="n1" x="495" y="45.5">B4</text></g>

<!-- round 4 -->
<g transform="translate(0,123.35)"><use href="#r4"/><text class="n1" x="558" y="85.5">A5</text></g>
<g transform="translate(0,444.95)"><use href="#r4"/><text class="n1" x="558" y="85.5">B5</text></g>
<g transform="translate(0,766.55)"><use href="#r4"/><text class="n1" x="558" y="85.5">A6</text></g>
<g transform="translate(0,1088.15)"><use href="#r4"/><text class="n1" x="558" y="85.5">B6</text></g>

<!-- round 5 + final -->
<g transform="translate(0,203.75)"><use href="#r5"/><text class="n1" x="622" y="166">1</text></g>
<g transform="translate(0,846.95)"><use href="#r5"/><text class="n1" x="622" y="166">2</text></g>
<path class="k" d="M697 364.55V1007.75M697 686.15H730"/>
<text class="n1" x="684" y="691.5">3</text>
<text x="748" y="673" style="font-size:7px;fill:#444" text-anchor="middle">|</text>
<text x="735" y="689" style="font-size:8px;fill:#333">Final</text>

<!-- venues -->
<text class="vn" x="358" y="126">会場15</text><text class="vs" x="392" y="125.5">七城運動公園サッカー場B</text>
<text class="vn" x="358" y="287">会場16</text><text class="vn" x="402" y="287">COSMOS B</text>
<text class="vn" x="358" y="448">会場17</text><text class="vs" x="392" y="447.5">八代運動公園多目的広場</text>
<text class="vn" x="358" y="609">会場18</text><text class="vn" x="392" y="609">森城町陸上競技場A</text>
<text class="vn" x="358" y="769.5">会場19</text><text class="vn" x="402" y="769.5">COSMOS A</text>
<text class="vn" x="358" y="930.5">会場20</text><text class="vn" x="392" y="930.5">森城町陸上競技場B</text>
<text class="vn" x="358" y="1091">会場21</text><text class="vs" x="392" y="1090.5">七城運動公園サッカー場A</text>
<text class="vn" x="358" y="1252">会場22</text><text class="vs" x="392" y="1251.5">八代運動公園多目的広場</text>
<text class="vn" x="485" y="688">会場23</text><text class="vn" x="525" y="688">COSMOS AB</text>
<text class="vn" x="609" y="688">会場24</text><text class="vs" x="632" y="687.5">こ園補助B</text>

<!-- bottom tables -->
<g>
<text class="hd" x="384" y="1372" text-anchor="middle">1月24日(土)</text>
<text class="hd" x="541" y="1372" text-anchor="middle">1月31日(土)</text>
<text class="hd" x="699" y="1372" text-anchor="middle">2月7日(土)</text>
<g fill="none" stroke="#000" stroke-width="2">
<rect x="321" y="1379" width="126" height="138" style="fill:none;stroke-width:2.4"/>
<path d="M321 1400H447M321 1419.5H447M321 1439H447M321 1458.5H447M321 1478H447M321 1497.5H447M353 1379V1517M417 1379V1517"/>
<rect x="478" y="1379" width="126" height="138" style="fill:none;stroke-width:2.4"/>
<path d="M478 1400H604M478 1419.5H604M478 1439H604M478 1458.5H604M478 1478H604M478 1497.5H604M510 1379V1517M575 1379V1517"/>
<rect x="637" y="1379" width="125" height="138" style="fill:none;stroke-width:2.4"/>
<path d="M637 1400H762M637 1419.5H762M637 1439H762M637 1458.5H762M637 1478H762M637 1497.5H762M668 1379V1458.5M668 1478V1517M732 1379V1458.5M732 1478V1517"/>
</g>
<text class="th" x="337" y="1394">No</text><text class="th" x="385" y="1394">開始時刻</text><text class="th" x="432" y="1394">審判</text>
<text class="tv" x="337" y="1415">1</text><text class="tv" x="385" y="1415">9:30</text><text class="tr" x="432" y="1413">No.4</text>
<text class="tv" x="337" y="1434.5">2</text><text class="tv" x="385" y="1434.5">10:20</text><text class="tr" x="432" y="1432.5">No.1</text>
<text class="tv" x="337" y="1454">3</text><text class="tv" x="385" y="1454">11:10</text><text class="tr" x="432" y="1452">No.2</text>
<text class="tv" x="337" y="1473.5">4</text><text class="tv" x="385" y="1473.5">12:00</text><text class="tr" x="432" y="1471.5">No.3</text>
<text class="tv" x="337" y="1493">5</text><text class="tv" x="385" y="1493">12:50</text><text class="tr" x="432" y="1491">No.4</text>
<text class="tv" x="337" y="1512.5">6</text><text class="tv" x="385" y="1512.5" style="fill:#e00000">13:50</text><text class="tr" x="432" y="1510.5">No.5</text>

<text class="th" x="494" y="1394">No</text><text class="th" x="542" y="1394">開始時刻</text><text class="th" x="589" y="1394">審判</text>
<text class="tv" x="494" y="1415">1</text><text class="tv" x="542" y="1415">9:30</text><text class="tr" x="589" y="1413">No.4</text>
<text class="tv" x="494" y="1434.5">2</text><text class="tv" x="542" y="1434.5">10:20</text><text class="tr" x="589" y="1432.5">No.1</text>
<text class="tv" x="494" y="1454">3</text><text class="tv" x="542" y="1454">11:10</text><text class="tr" x="589" y="1452">No.2</text>
<text class="tv" x="494" y="1473.5">4</text><text class="tv" x="542" y="1473.5">12:00</text><text class="tr" x="589" y="1471.5">No.3</text>
<text class="tv" x="494" y="1493">5</text><text class="tv" x="542" y="1493">12:50</text><text class="tr" x="589" y="1491">No.4</text>
<text class="tv" x="494" y="1512.5">6</text><text class="tv" x="542" y="1512.5" style="fill:#e00000">13:50</text><text class="tr" x="589" y="1510.5">No.5</text>

<text class="th" x="652" y="1394">No</text><text class="th" x="700" y="1394">開始時刻</text><text class="th" x="747" y="1394">審判</text>
<text class="tv" x="652" y="1415">1</text><text class="tv" x="700" y="1415">9:30</text><text class="th" x="747" y="1414">派遣</text>
<text class="tv" x="652" y="1434.5">2</text><text class="tv" x="700" y="1434.5" style="fill:#e00000">10:40</text><text class="th" x="747" y="1433.5">派遣</text>
<text class="tv" x="652" y="1454">3</text><text class="tv" x="700" y="1454">13:30</text><text class="th" x="747" y="1453">派遣</text>
<text x="700" y="1471" style="font-size:6px;fill:#444" text-anchor="middle">※決勝は、第2試合終了の2時間後</text>
</g>
</svg>
</body></html>
